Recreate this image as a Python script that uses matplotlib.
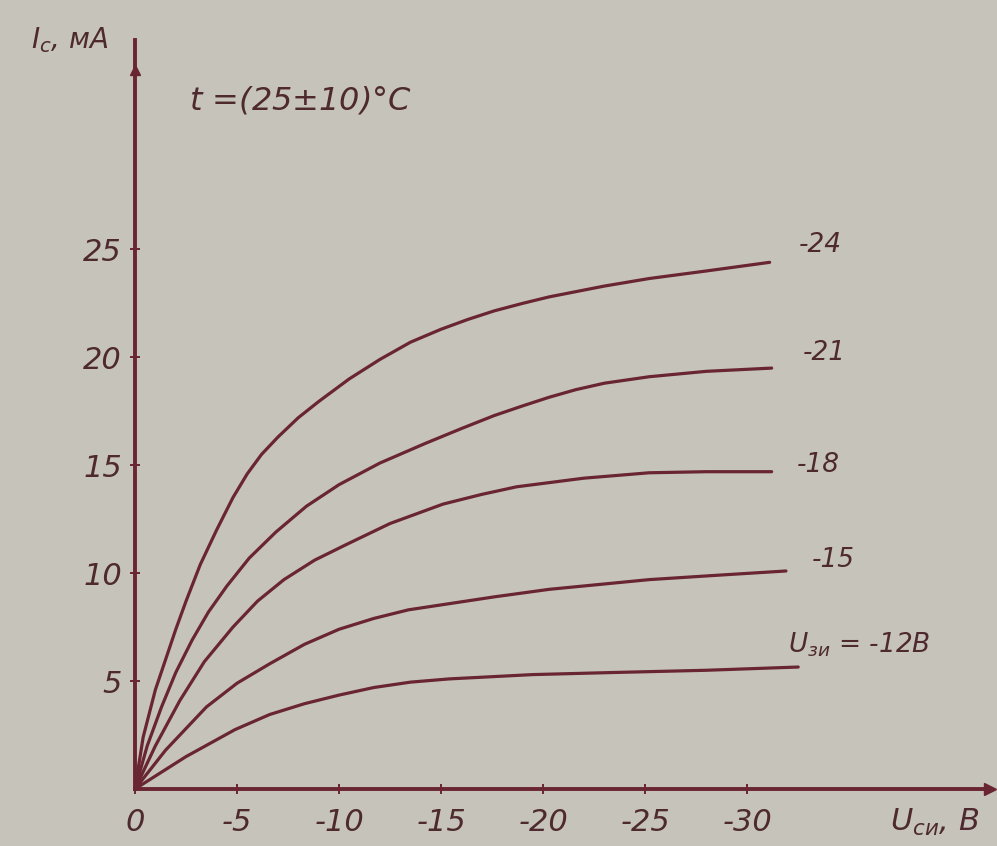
import matplotlib.pyplot as plt

# =========================
# Stock characteristics I_c(U_si) at several gate voltages
# =========================

gate_labels = ["-24", "-21", "-18", "-15", "$U_{зи}$ = -12В"]

u_24 = [0, -0.4, -1.0, -1.5, -2.0, -2.5, -3.2, -4.0, -4.8, -5.5, -6.2, -7.0, -8.0, -9.0, -10.5,
        -12.0, -13.5, -15.0, -16.3, -17.6, -19.0, -20.3, -23.0, -25.2, -28.0, -31.1]
i_24 = [0, 2.4, 4.6, 6.0, 7.4, 8.7, 10.4, 12.0, 13.5, 14.6, 15.5, 16.3, 17.2, 17.95, 19.0,
        19.9, 20.7, 21.3, 21.75, 22.15, 22.5, 22.8, 23.3, 23.65, 24.0, 24.4]

u_21 = [0, -0.6, -1.3, -2.0, -2.8, -3.6, -4.5, -5.6, -6.9, -8.4, -10.0, -12.0, -14.2, -16.0,
        -17.6, -19.0, -20.3, -21.6, -23.0, -25.2, -28.0, -31.2]
i_21 = [0, 2.0, 3.8, 5.4, 6.9, 8.2, 9.4, 10.7, 11.9, 13.1, 14.1, 15.1, 16.0, 16.7,
        17.3, 17.75, 18.15, 18.5, 18.8, 19.1, 19.35, 19.5]

u_18 = [0, -1.0, -2.2, -3.4, -4.8, -6.0, -7.3, -8.8, -10.3, -12.5, -15.1, -17.0, -18.7,
        -22.0, -25.2, -28.0, -31.2]
i_18 = [0, 2.0, 4.1, 5.9, 7.5, 8.7, 9.7, 10.6, 11.3, 12.3, 13.2, 13.65, 14.0,
        14.4, 14.65, 14.7, 14.7]

u_15 = [0, -1.5, -3.5, -5.0, -6.6, -8.3, -10.0, -11.7, -13.4, -15.5, -17.6, -20.3, -25.2,
        -28.5, -31.9]
i_15 = [0, 1.8, 3.8, 4.9, 5.8, 6.7, 7.4, 7.9, 8.3, 8.6, 8.9, 9.25, 9.7,
        9.9, 10.1]

u_12 = [0, -2.5, -4.9, -6.6, -8.3, -10.0, -11.7, -13.5, -15.4, -19.5, -23.6, -28.0, -32.5]
i_12 = [0, 1.5, 2.75, 3.45, 3.95, 4.35, 4.7, 4.95, 5.1, 5.3, 5.4, 5.5, 5.65]

x_ticks = [0, -5, -10, -15, -20, -25, -30]
y_ticks = [5, 10, 15, 20, 25]

curves = [(u_24, i_24), (u_21, i_21), (u_18, i_18), (u_15, i_15), (u_12, i_12)]

# label anchor (U, I) for each curve
label_pos = [(-33.6, 25.2), (-33.8, 20.2), (-33.5, 15.0), (-34.2, 10.6), (-35.5, 6.7)]

paper = "#c6c4ba"
ink = "#6a2532"
pencil = "#4e2a2e"

plt.rcParams["font.family"] = ["DejaVu Sans"]
plt.rcParams["mathtext.fontset"] = "dejavusans"

fig = plt.figure(figsize=(9.97, 8.46), dpi=100)
fig.patch.set_facecolor(paper)

ax = fig.add_axes([0.1354, 0.0674, 0.8576, 0.8853])
ax.set_facecolor(paper)

for (u, i) in curves:
    ax.plot(u, i, color=ink, linewidth=2.3, solid_joinstyle="round", solid_capstyle="round")

for text, (u, i) in zip(gate_labels, label_pos):
    ax.text(u, i, text, fontsize=19, style="italic", color=pencil, ha="center", va="center")

ax.set_xlim(0, -41.9)
ax.set_ylim(0, 34.7)

# axes: only left and bottom, with arrows
for side in ["top", "right"]:
    ax.spines[side].set_visible(False)
for side in ["left", "bottom"]:
    ax.spines[side].set_color(ink)
    ax.spines[side].set_linewidth(2.8)

ax.plot(1, 0, ">", color=ink, markersize=9, transform=ax.transAxes, clip_on=False)
ax.plot(0, 0.96, "^", color=ink, markersize=7, transform=ax.transAxes, clip_on=False)

ax.set_xticks(x_ticks)
ax.set_xticklabels([str(v) for v in x_ticks])
ax.set_yticks(y_ticks)
ax.set_yticklabels([str(v) for v in y_ticks])

ax.tick_params(axis="both", direction="inout", length=7, width=1.4, color=ink,
               labelcolor=pencil, labelsize=22)
ax.tick_params(axis="x", pad=10)
ax.tick_params(axis="y", pad=6)
for lab in ax.get_xticklabels() + ax.get_yticklabels():
    lab.set_style("italic")

# axis names and temperature note
fig.text(70 / 997, 1 - 40 / 846, "$I_с$, мА", fontsize=20, style="italic",
         color=pencil, ha="center", va="center")
fig.text(935 / 997, 1 - 822 / 846, "$U_{си}$, В", fontsize=22, style="italic",
         color=pencil, ha="center", va="center")
fig.text(300 / 997, 1 - 100 / 846, "$t$ =(25±10)°C", fontsize=23, style="italic",
         color=pencil, ha="center", va="center")

plt.savefig("out.png", dpi=100, facecolor=paper)
plt.close()
